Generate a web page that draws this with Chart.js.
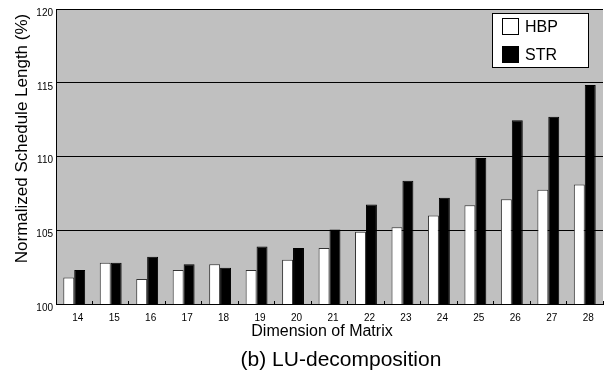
<!DOCTYPE html>
<html>
<head>
<meta charset="utf-8">
<script src="https://cdn.jsdelivr.net/npm/chart.js@4.4.1/dist/chart.umd.min.js"></script>
<style>
  html, body { margin: 0; padding: 0; background: #ffffff; }
  #wrap { width: 605px; height: 373px; }
</style>
</head>
<body>
<div id="wrap"><canvas id="c" width="605" height="373"></canvas></div>
<script>
const categories = ['14','15','16','17','18','19','20','21','22','23','24','25','26','27','28'];
const hbpValues = [101.8, 102.8, 101.7, 102.3, 102.7, 102.3, 103.0, 103.8, 104.9, 105.2, 106.0, 106.7, 107.1, 107.75, 108.1];
const strValues = [102.3, 102.8, 103.2, 102.7, 102.45, 103.9, 103.8, 105.05, 106.75, 108.35, 107.2, 109.9, 112.45, 112.7, 114.85];
const seriesNames = ['HBP', 'STR'];
const yMin = 100, yMax = 120, yStep = 5;
const xTitle = 'Dimension of Matrix';
const yTitle = 'Normalized Schedule Length (%)';
const caption = '(b) LU-decomposition';

const FONT = '"Liberation Sans", Arial, Helvetica, sans-serif';

const bgPlugin = {
  id: 'plotBg',
  beforeDraw(chart) {
    const a = chart.chartArea, ctx = chart.ctx;
    ctx.save();
    ctx.fillStyle = '#c0c0c0';
    ctx.fillRect(a.left, a.top, a.right - a.left, a.bottom - a.top);
    ctx.restore();
  }
};

const textPlugin = {
  id: 'texts',
  afterDraw(chart) {
    const ctx = chart.ctx;
    ctx.save();
    ctx.fillStyle = '#000';
    ctx.textAlign = 'center';
    ctx.textBaseline = 'alphabetic';
    ctx.font = '16px ' + FONT;
    ctx.fillText(xTitle, 322, 336);
    ctx.font = '21px ' + FONT;
    ctx.fillText(caption, 341, 366);
    ctx.translate(27, 138.5);
    ctx.rotate(-Math.PI / 2);
    ctx.font = '17px ' + FONT;
    ctx.fillText(yTitle, 0, 0);
    ctx.restore();

    // legend box
    ctx.save();
    ctx.fillStyle = '#fff';
    ctx.fillRect(492.5, 13.5, 96, 54);
    ctx.strokeStyle = '#000';
    ctx.lineWidth = 1;
    ctx.strokeRect(492.5, 13.5, 96, 54);
    chart.data.datasets.forEach((ds, i) => {
      const y = 18.5 + i * 28;
      ctx.fillStyle = ds.backgroundColor;
      ctx.fillRect(502.5, y, 16, 16);
      ctx.strokeStyle = '#000';
      ctx.strokeRect(502.5, y, 16, 16);
      ctx.fillStyle = '#000';
      ctx.font = '16px ' + FONT;
      ctx.textAlign = 'left';
      ctx.textBaseline = 'middle';
      ctx.fillText(ds.label, 525, y + 9);
    });
    ctx.restore();
  }
};

new Chart(document.getElementById('c'), {
  type: 'bar',
  data: {
    labels: categories,
    datasets: [
      { label: seriesNames[0], data: hbpValues, backgroundColor: '#ffffff', borderColor: '#333333', borderWidth: 1 },
      { label: seriesNames[1], data: strValues, backgroundColor: '#000000', borderColor: '#000000', borderWidth: 1 }
    ]
  },
  options: {
    responsive: false,
    animation: false,
    layout: { padding: { top: 8, right: 2, left: 0, bottom: 0 } },
    plugins: {
      legend: { display: false },
      tooltip: { enabled: false },
      title: { display: false }
    },
    datasets: { bar: { categoryPercentage: 0.6, barPercentage: 1.0 } },
    scales: {
      x: {
        grid: { display: true, drawOnChartArea: false, drawTicks: true, tickLength: -3, color: '#000', lineWidth: 1, offset: true },
        border: { display: true, color: '#000', width: 1 },
        ticks: { font: { family: FONT, size: 10 }, color: '#000', padding: 11, labelOffset: 3.5, maxRotation: 0, autoSkip: false },
        afterFit(scale) { scale.height = 69; }
      },
      y: {
        min: yMin, max: yMax,
        grid: { color: '#000', lineWidth: 1, drawTicks: false },
        border: { display: true, color: '#000', width: 1 },
        ticks: { stepSize: yStep, font: { family: FONT, size: 10 }, color: '#000', padding: 3, labelOffset: 4 },
        afterFit(scale) { scale.width = 56; }
      }
    }
  },
  plugins: [bgPlugin, textPlugin]
});
</script>
</body>
</html>
